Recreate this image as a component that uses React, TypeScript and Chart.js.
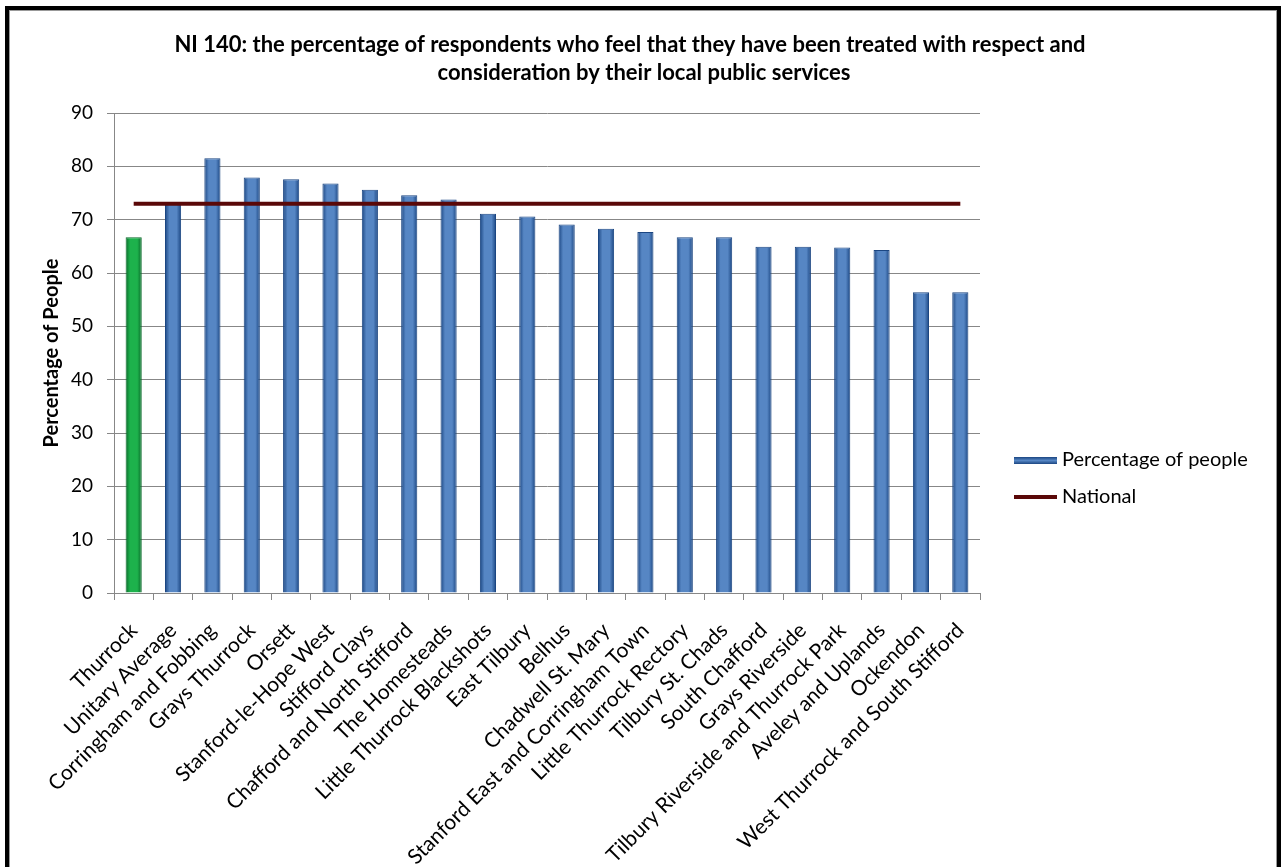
import React, { useEffect, useRef } from "react";
import { Chart, registerables } from "chart.js";

Chart.register(...registerables);

const titleLines = [
  "NI 140: the percentage of respondents who feel that they have been treated with respect and",
  "consideration by their local public services",
];
const yAxisTitle = "Percentage of People";
const barSeriesName = "Percentage of people";
const lineSeriesName = "National";

const categories = [
  "Thurrock",
  "Unitary Average",
  "Corringham and Fobbing",
  "Grays Thurrock",
  "Orsett",
  "Stanford-le-Hope West",
  "Stifford Clays",
  "Chafford and North Stifford",
  "The Homesteads",
  "Little Thurrock Blackshots",
  "East Tilbury",
  "Belhus",
  "Chadwell St. Mary",
  "Stanford East and Corringham Town",
  "Little Thurrock Rectory",
  "Tilbury St. Chads",
  "South Chafford",
  "Grays Riverside",
  "Tilbury Riverside and Thurrock Park",
  "Aveley and Uplands",
  "Ockendon",
  "West Thurrock and South Stifford",
];

const percentages = [
  66.7, 73.1, 81.5, 77.9, 77.6, 76.8, 75.6, 74.6, 73.8, 71.1, 70.6, 69.1, 68.3,
  67.7, 66.7, 66.7, 64.9, 64.9, 64.8, 64.3, 56.4, 56.4,
];

const national = [
  73, 73, 73, 73, 73, 73, 73, 73, 73, 73, 73, 73, 73, 73, 73, 73, 73, 73, 73,
  73, 73, 73,
];

const yMin = 0;
const yMax = 90;
const yStep = 10;

const FONT = "Lato, 'Open Sans', sans-serif";
const BAR_PCT = 0.41;
const BLUE_MID = "#5686c4";
const BLUE_EDGE = "#1b4682";
const GREEN_MID = "#1db24c";
const GREEN_EDGE = "#0a6a2a";
const NATIONAL_COLOR = "#5a0808";
const GRID = "#878787";

function barFill(ctx: any) {
  const chart = ctx.chart;
  const xs = chart.scales && chart.scales.x;
  const green = ctx.dataIndex === 0;
  const mid = green ? GREEN_MID : BLUE_MID;
  const edge = green ? GREEN_EDGE : BLUE_EDGE;
  if (!chart.chartArea || !xs || ctx.dataIndex === undefined) return mid;
  const cx = xs.getPixelForValue(ctx.dataIndex);
  const w = (xs.width / categories.length) * BAR_PCT;
  const g = chart.ctx.createLinearGradient(cx - w / 2, 0, cx + w / 2, 0);
  g.addColorStop(0, edge);
  g.addColorStop(0.28, mid);
  g.addColorStop(0.72, mid);
  g.addColorStop(1, edge);
  return g;
}

const decorPlugin = {
  id: "decor",
  afterDraw(chart: any) {
    const c = chart.ctx;
    c.save();
    c.fillStyle = "#000";
    c.textAlign = "center";
    c.textBaseline = "middle";
    c.font = `bold 22px ${FONT}`;
    c.fillText(titleLines[0], 630, 45);
    c.fillText(titleLines[1], 644, 73);

    // legend
    const lx = 1014;
    const g = c.createLinearGradient(0, 457, 0, 464);
    g.addColorStop(0, BLUE_EDGE);
    g.addColorStop(0.5, BLUE_MID);
    g.addColorStop(1, BLUE_EDGE);
    c.fillStyle = g;
    c.fillRect(lx, 457, 43, 7);
    c.strokeStyle = NATIONAL_COLOR;
    c.lineWidth = 4;
    c.beginPath();
    c.moveTo(lx, 497);
    c.lineTo(lx + 43, 497);
    c.stroke();
    c.fillStyle = "#000";
    c.textAlign = "left";
    c.font = `20px ${FONT}`;
    c.fillText(barSeriesName, 1062, 460);
    c.fillText(lineSeriesName, 1062, 497);
    c.restore();
  },
};

export default function App() {
  const ref = useRef<HTMLCanvasElement | null>(null);

  useEffect(() => {
    if (!ref.current) return;
    const chart = new Chart(ref.current, {
      type: "bar",
      data: {
        labels: categories,
        datasets: [
          {
            type: "line",
            label: lineSeriesName,
            data: national,
            borderColor: NATIONAL_COLOR,
            borderWidth: 4,
            pointRadius: 0,
            order: 0,
          } as any,
          {
            type: "bar",
            label: barSeriesName,
            data: percentages,
            backgroundColor: barFill,
            borderColor: (ctx: any) => (ctx.dataIndex === 0 ? GREEN_EDGE : BLUE_EDGE),
            borderWidth: 1,
            borderSkipped: "bottom",
            barPercentage: BAR_PCT,
            categoryPercentage: 1,
            order: 1,
          } as any,
        ],
      },
      options: {
        responsive: false,
        animation: false,
        devicePixelRatio: 1,
        layout: { padding: { top: 113, left: 0, right: 305, bottom: 0 } },
        plugins: {
          legend: { display: false },
          title: { display: false },
          tooltip: { enabled: false },
        },
        scales: {
          x: {
            offset: true,
            afterFit: (s: any) => {
              s.height = 274;
            },
            grid: {
              offset: true,
              drawOnChartArea: false,
              drawTicks: true,
              tickLength: 7,
              color: GRID,
            },
            border: { color: GRID, width: 1 },
            ticks: {
              autoSkip: false,
              maxRotation: 45,
              minRotation: 45,
              padding: 18,
              color: "#000",
              font: { family: FONT, size: 21 },
            },
          },
          y: {
            min: yMin,
            max: yMax,
            afterFit: (s: any) => {
              s.width = 114;
            },
            grid: { color: GRID, tickLength: 7, drawTicks: true },
            border: { color: GRID, width: 1 },
            ticks: {
              stepSize: yStep,
              padding: 14,
              color: "#000",
              font: { family: FONT, size: 19 },
            },
            title: {
              display: true,
              text: yAxisTitle,
              color: "#000",
              font: { family: FONT, size: 20, weight: "bold" },
              padding: { top: 40, bottom: 0 },
            },
          },
        },
      },
      plugins: [decorPlugin],
    });
    return () => chart.destroy();
  }, []);

  return (
    <div
      style={{
        position: "fixed",
        left: 0,
        top: 0,
        width: 1285,
        height: 867,
        background: "#fff",
        overflow: "hidden",
      }}
    >
      <div
        style={{
          position: "absolute",
          left: 5,
          top: 6,
          width: 1276,
          height: 900,
          boxSizing: "border-box",
          border: "4px solid #000",
          borderBottom: "none",
          boxShadow: "inset 1px 1px 0 0 #999, inset -1px 0 0 0 #999",
        }}
      />
      <canvas
        ref={ref}
        width={1285}
        height={867}
        style={{ position: "absolute", left: 0, top: 0, width: 1285, height: 867 }}
      />
    </div>
  );
}
